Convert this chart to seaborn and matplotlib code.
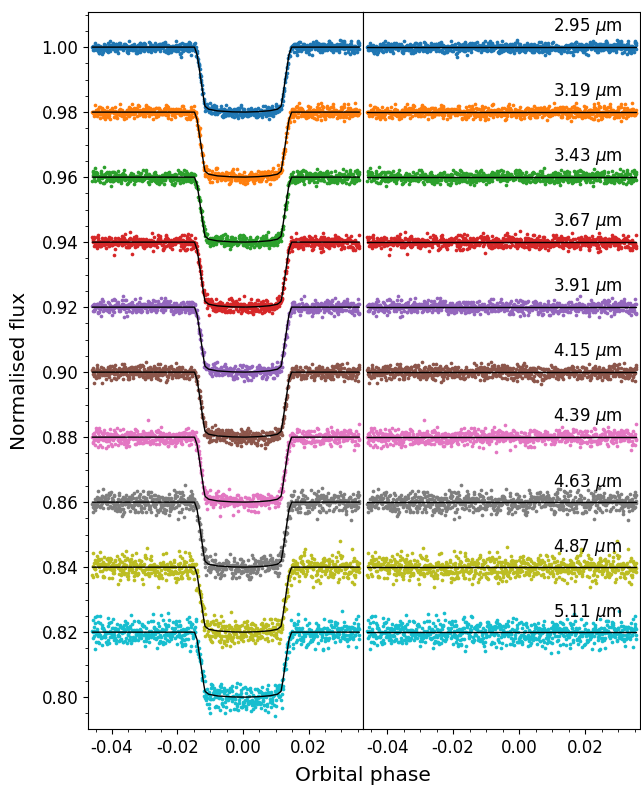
import numpy as np
import pandas as pd
import matplotlib
matplotlib.use("Agg")
import matplotlib.pyplot as plt
import seaborn as sns
from matplotlib.ticker import AutoMinorLocator, MultipleLocator, FormatStrFormatter

# ---- data ----
wavelengths = ["2.95", "3.19", "3.43", "3.67", "3.91", "4.15", "4.39", "4.63", "4.87", "5.11"]
baselines = [1.00, 0.98, 0.96, 0.94, 0.92, 0.90, 0.88, 0.86, 0.84, 0.82]
transit_depth = 0.02
noise_sigma = [0.0009, 0.0010, 0.0010, 0.0011, 0.0011, 0.0012, 0.0013, 0.0017, 0.0021, 0.0023]
# model shape (fraction of depth) at phase knots
shape_phase = [-0.0460, -0.0148, -0.0140, -0.0130, -0.0120, -0.0116, -0.0105, -0.0080,
               -0.0040, 0.0000, 0.0040, 0.0080, 0.0105, 0.0116, 0.0120, 0.0130,
               0.0140, 0.0148, 0.0355]
shape_frac = [0.0, 0.0, 0.12, 0.45, 0.80, 0.91, 0.955, 0.98,
              0.995, 1.0, 0.995, 0.98, 0.955, 0.91, 0.80, 0.45,
              0.12, 0.0, 0.0]
phase_start, phase_end, n_points = -0.0460, 0.0355, 750

colors = sns.color_palette("tab10", 10)

sns.set_style("ticks")
plt.rcParams["font.family"] = ["DejaVu Sans"]
plt.rcParams.update({"text.color": "black", "axes.labelcolor": "black",
                     "xtick.color": "black", "ytick.color": "black",
                     "xtick.labelsize": 12, "ytick.labelsize": 12})

fig = plt.figure(figsize=(6.41, 7.85), dpi=100)
ax1 = fig.add_axes([0.1373, 0.0713, 0.4290, 0.9134])
ax2 = fig.add_axes([0.5663, 0.0713, 0.4321, 0.9134], sharey=ax1)

rng = np.random.default_rng(7)
phase = np.linspace(phase_start, phase_end, n_points)
model_frac = np.interp(phase, shape_phase, shape_frac)

for i, (wl, base, sig) in enumerate(zip(wavelengths, baselines, noise_sigma)):
    noise = rng.normal(0, sig, n_points)
    model = base - transit_depth * model_frac
    df = pd.DataFrame({"phase": phase, "flux": model + noise,
                       "model": model, "resid": base + noise,
                       "flat": np.full(n_points, base)})
    sns.scatterplot(data=df, x="phase", y="flux", ax=ax1, color=colors[i],
                    s=7, linewidth=0, legend=False, zorder=2)
    sns.lineplot(data=df, x="phase", y="model", ax=ax1, color="black",
                 lw=1.0, zorder=3, estimator=None)
    sns.scatterplot(data=df, x="phase", y="resid", ax=ax2, color=colors[i],
                    s=7, linewidth=0, legend=False, zorder=2)
    sns.lineplot(data=df, x="phase", y="flat", ax=ax2, color="black",
                 lw=1.0, zorder=3, estimator=None)
    ax2.text(0.0104, base + 0.0062, f"{wl} $\\mu$m", fontsize=12,
             ha="left", va="center", zorder=4)

for ax in (ax1, ax2):
    ax.set_xlim(-0.0473, 0.0366)
    ax.xaxis.set_major_locator(MultipleLocator(0.02))
    ax.xaxis.set_minor_locator(AutoMinorLocator(4))
    ax.xaxis.set_major_formatter(FormatStrFormatter("%.2f"))
    ax.set_xlabel("")
    ax.set_ylabel("")
    for sp in ax.spines.values():
        sp.set_visible(True)
        sp.set_color("black")
        sp.set_linewidth(0.8)
    ax.tick_params(which="both", color="black")
    ax.tick_params(which="major", length=3.5, width=0.8)
    ax.tick_params(which="minor", length=2, width=0.6)

ax1.set_ylim(0.7902, 1.0108)
ax1.yaxis.set_major_locator(MultipleLocator(0.02))
ax1.yaxis.set_minor_locator(AutoMinorLocator(4))
ax1.yaxis.set_major_formatter(FormatStrFormatter("%.2f"))
ax2.tick_params(axis="y", which="both", left=False, labelleft=False)

fig.text(0.0312, 0.528, "Normalised flux", rotation=90, fontsize=14.5,
         ha="center", va="center")
fig.text(0.5663, 0.0127, "Orbital phase", fontsize=14.5, ha="center", va="center")

fig.savefig("out.png", dpi=100)
